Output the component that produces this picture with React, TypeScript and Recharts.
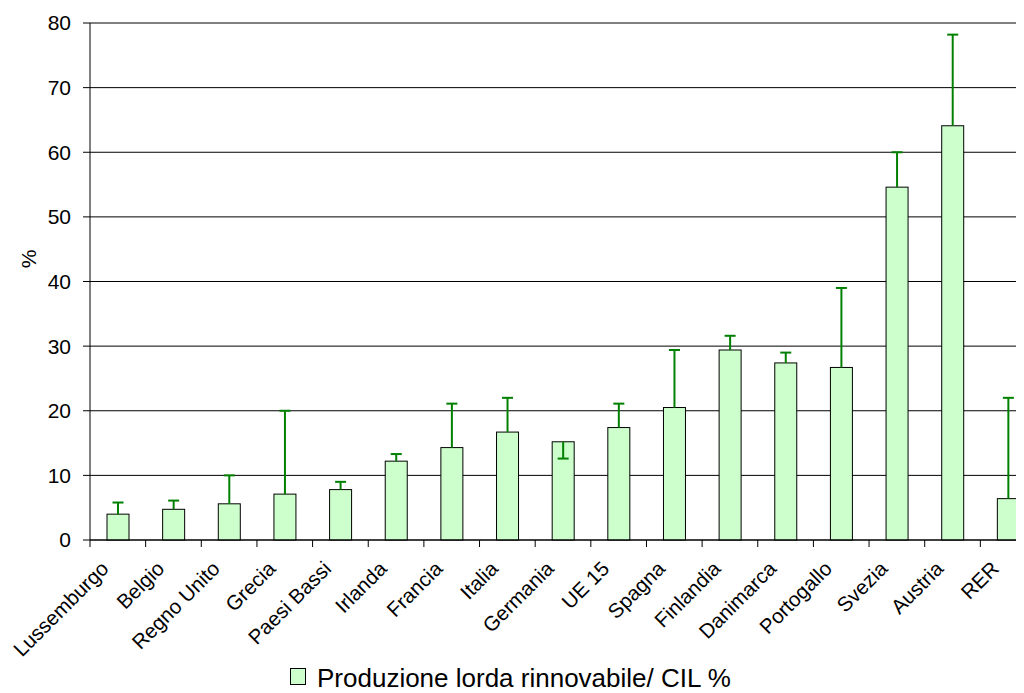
import { BarChart, Bar, XAxis, YAxis, CartesianGrid, Legend, Label } from 'recharts'

// Renewable gross production / CIL %, by country
const categories = [
  'Lussemburgo', 'Belgio', 'Regno Unito', 'Grecia', 'Paesi Bassi', 'Irlanda', 'Francia', 'Italia',
  'Germania', 'UE 15', 'Spagna', 'Finlandia', 'Danimarca', 'Portogallo', 'Svezia', 'Austria', 'RER',
]
const values = [4.0, 4.75, 5.6, 7.1, 7.8, 12.2, 14.3, 16.7, 15.2, 17.4, 20.5, 29.4, 27.4, 26.7, 54.6, 64.1, 6.4]
// where each error bar ends (Germania goes down)
const errorEnds = [5.8, 6.1, 10.0, 20.0, 9.0, 13.3, 21.1, 22.0, 12.6, 21.1, 29.4, 31.6, 29.0, 39.0, 60.0, 78.2, 22.0]
const yTicks = [0, 10, 20, 30, 40, 50, 60, 70, 80]
const seriesName = 'Produzione lorda rinnovabile/ CIL %'

const data = categories.map((name, i) => ({ name, value: values[i], errEnd: errorEnds[i] }))

const FONT = '"Liberation Sans", Arial, sans-serif'
const GREEN = '#008000'
const FILL = '#CCFFCC'

function BarWithError(props: any) {
  const { x, y, width, height, payload } = props
  const perUnit = height / payload.value
  const ey = y + height - payload.errEnd * perUnit
  const cx = x + width / 2
  return (
    <g>
      <rect x={x} y={y} width={width} height={height} fill={FILL} stroke="#000" strokeWidth={1} />
      <line x1={cx} x2={cx} y1={y} y2={ey} stroke={GREEN} strokeWidth={2} />
      <line x1={cx - 5.5} x2={cx + 5.5} y1={ey} y2={ey} stroke={GREEN} strokeWidth={2} />
    </g>
  )
}

function XTick(props: any) {
  const { x, y, payload, index } = props
  const half = payload.offset || 27.8
  const left = x - half
  const tx = x - 8
  const ty = y + 30
  return (
    <g>
      <line x1={left} x2={left} y1={y} y2={y + 7} stroke="#000" />
      {index === categories.length - 1 && (
        <line x1={x + half} x2={x + half} y1={y} y2={y + 7} stroke="#000" />
      )}
      <text
        x={tx}
        y={ty}
        textAnchor="end"
        transform={`rotate(-45, ${tx}, ${ty})`}
        fontSize={20.5}
        fontFamily={FONT}
        fill="#000"
      >
        {payload.value}
      </text>
    </g>
  )
}

function LegendBox() {
  return (
    <svg width={1040} height={40}>
      <rect x={282.5} y={15.5} width={15} height={16} fill={FILL} stroke="#000" />
      <text x={309} y={34} fontSize={26} fontFamily={FONT} fill="#000">
        {seriesName}
      </text>
    </svg>
  )
}

export default function App() {
  return (
    <div style={{ width: 1016, height: 685, overflow: 'hidden' }}>
      <BarChart
        width={1040}
        height={685}
        data={data}
        margin={{ top: 15, right: 12, left: 12, bottom: 0 }}
      >
        <CartesianGrid vertical={false} stroke="#000" />
        <XAxis
          dataKey="name"
          interval={0}
          tickLine={false}
          tickSize={0}
          tickMargin={0}
          height={113}
          axisLine={{ stroke: '#000' }}
          tick={<XTick />}
        />
        <YAxis
          domain={[0, 80]}
          ticks={yTicks}
          interval={0}
          width={70}
          tickSize={7}
          tickMargin={12}
          axisLine={{ stroke: '#000' }}
          tickLine={{ stroke: '#000' }}
          tick={{ fill: '#000', fontSize: 21, fontFamily: FONT }}
        >
          <Label
            content={() => (
              <text
                x={20}
                y={251}
                textAnchor="middle"
                dominantBaseline="central"
                transform="rotate(-90, 20, 251)"
                fontSize={21}
                fontFamily={FONT}
                fill="#000"
              >
                %
              </text>
            )}
          />
        </YAxis>
        <Legend
          verticalAlign="bottom"
          wrapperStyle={{ left: 0, top: 645, width: 1040, height: 40 }}
          content={() => <LegendBox />}
        />
        <Bar
          dataKey="value"
          name={seriesName}
          barSize={22}
          shape={<BarWithError />}
          isAnimationActive={false}
        />
      </BarChart>
    </div>
  )
}
